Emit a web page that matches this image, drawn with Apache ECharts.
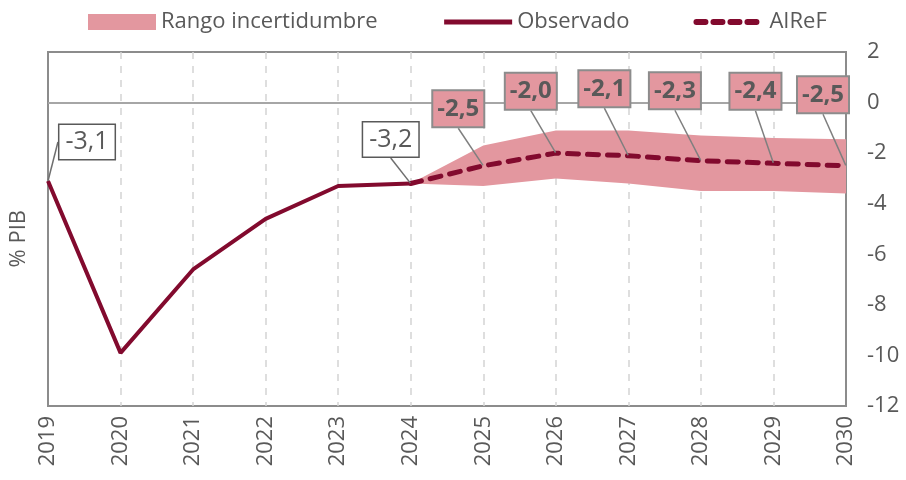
<!DOCTYPE html>
<html>
<head>
    <meta charset="utf-8">
    <title>Saldo % PIB</title>
    <script src="https://cdn.jsdelivr.net/npm/echarts@6/dist/echarts.min.js"></script>
    <style>
        html, body { margin: 0; padding: 0; background: #fff; }
        #chart1 { width: 906px; height: 480px; }
    </style>
</head>
<body>
<div id="chart1"></div>
<script>
    // datos
    var years = ['2019', '2020', '2021', '2022', '2023', '2024', '2025', '2026', '2027', '2028', '2029', '2030'];
    var observado = [-3.1, -9.9, -6.6, -4.6, -3.3, -3.2, null, null, null, null, null, null];
    var airef = [null, null, null, null, null, -3.2, -2.5, -2.0, -2.1, -2.3, -2.4, -2.5];
    var rangoBajo = [null, null, null, null, null, -3.2, -3.3, -3.0, -3.2, -3.5, -3.5, -3.6];
    var rangoAlto = [null, null, null, null, null, -3.2, -1.7, -1.1, -1.1, -1.3, -1.4, -1.45];

    // etiquetas: que puntos llevan caja y desplazamiento de la caja
    var obsConEtiqueta = [0, 5];
    var obsDesp = {0: [39, -39], 5: [-20, -44]};
    var arefDesp = {6: [-25, -57], 7: [-25, -62], 8: [-24, -67], 9: [-26, -70], 10: [-18, -72], 11: [-23, -71]};

    var granate = '#820a2e';
    var rosa = '#e3979f';
    var gris = '#595959';
    var fuente = '"Open Sans", Lato, sans-serif';

    function fmt(v) {
        return v.toFixed(1).replace('.', ',');
    }

    var diferencia = rangoAlto.map(function (v, i) {
        return v == null ? null : +(v - rangoBajo[i]).toFixed(2);
    });
    var obsEtiquetas = observado.map(function (v, i) {
        return obsConEtiqueta.indexOf(i) >= 0 ? v : null;
    });
    var arefEtiquetas = airef.map(function (v, i) {
        return i > 5 ? v : null;
    });

    var myChart1 = echarts.init(document.getElementById('chart1'));
    myChart1.setOption({
        animation: false,
        textStyle: {fontFamily: fuente},
        legend: {
            left: 83,
            top: 6,
            itemWidth: 68,
            itemHeight: 16,
            itemGap: 64,
            textStyle: {fontSize: 22, color: gris, fontFamily: fuente},
            data: [
                {name: 'Rango incertidumbre', icon: 'rect'},
                {name: 'Observado', itemStyle: {opacity: 0}, lineStyle: {width: 5}},
                {name: 'AIReF', itemStyle: {opacity: 0}, lineStyle: {width: 6, type: [9, 8]}}
            ]
        },
        grid: {
            left: 48,
            right: 60,
            top: 52,
            bottom: 74,
            show: true,
            borderColor: '#8c8c8c',
            borderWidth: 2,
            containLabel: false
        },
        graphic: [{
            type: 'text',
            left: 8,
            top: 210,
            rotation: Math.PI / 2,
            style: {text: '% PIB', fontSize: 22, fill: gris, fontFamily: fuente}
        }],
        xAxis: {
            type: 'category',
            data: years,
            boundaryGap: false,
            axisLine: {show: false},
            axisTick: {show: false},
            axisLabel: {rotate: 90, fontSize: 22, color: gris, margin: 10, fontFamily: fuente},
            splitLine: {
                show: true,
                showMinLine: false,
                showMaxLine: false,
                lineStyle: {color: '#d4d4d4', width: 1.5, type: [7, 7]}
            }
        },
        yAxis: {
            type: 'value',
            position: 'right',
            min: -12,
            max: 2,
            interval: 2,
            axisLine: {show: false},
            axisTick: {show: false},
            splitLine: {show: false},
            axisLabel: {fontSize: 22, color: gris, margin: 21, fontFamily: fuente}
        },
        series: [
            {
                name: 'base',
                type: 'line',
                stack: 'rango',
                stackStrategy: 'all',
                data: rangoBajo,
                symbol: 'none',
                lineStyle: {opacity: 0},
                silent: true,
                z: 1
            },
            {
                name: 'Rango incertidumbre',
                type: 'line',
                stack: 'rango',
                stackStrategy: 'all',
                data: diferencia,
                symbol: 'none',
                itemStyle: {color: rosa},
                lineStyle: {opacity: 0},
                areaStyle: {color: rosa, opacity: 1},
                silent: true,
                z: 1
            },
            {
                name: 'Observado',
                type: 'line',
                data: observado,
                symbol: 'none',
                itemStyle: {color: granate},
                lineStyle: {color: granate, width: 4},
                markLine: {
                    silent: true,
                    symbol: 'none',
                    label: {show: false},
                    lineStyle: {color: '#a6a6a6', width: 2, type: 'solid'},
                    data: [{yAxis: 0}]
                },
                z: 3
            },
            {
                name: 'AIReF',
                type: 'line',
                data: airef,
                symbol: 'none',
                itemStyle: {color: granate},
                lineStyle: {color: granate, width: 5, type: [11, 9], cap: 'round'},
                z: 3
            },
            {
                name: 'etqObs',
                type: 'scatter',
                data: obsEtiquetas,
                symbolSize: 1,
                silent: true,
                itemStyle: {color: 'rgba(0,0,0,0)'},
                label: {
                    show: true,
                    position: 'inside',
                    formatter: function (p) { return fmt(p.value); },
                    fontSize: 25,
                    color: gris,
                    opacity: 1,
                    textBorderWidth: 0,
                    backgroundColor: '#fff',
                    borderColor: gris,
                    borderWidth: 1.5,
                    padding: [6, 6, 3, 6]
                },
                labelLine: {show: true, lineStyle: {color: '#6f6f6f', width: 1.5}},
                labelLayout: function (p) {
                    var d = obsDesp[p.dataIndex] || [0, 0];
                    return {dx: d[0], dy: d[1]};
                },
                z: 5
            },
            {
                name: 'etqAiref',
                type: 'scatter',
                data: arefEtiquetas,
                symbolSize: 1,
                silent: true,
                itemStyle: {color: 'rgba(0,0,0,0)'},
                label: {
                    show: true,
                    position: 'inside',
                    formatter: function (p) { return fmt(p.value); },
                    fontSize: 24,
                    fontWeight: 'bold',
                    color: gris,
                    opacity: 1,
                    textBorderWidth: 0,
                    backgroundColor: rosa,
                    borderColor: '#8c8c8c',
                    borderWidth: 2,
                    padding: [7, 4, 4, 4]
                },
                labelLine: {show: true, lineStyle: {color: '#7f7f7f', width: 1.5}},
                labelLayout: function (p) {
                    var d = arefDesp[p.dataIndex] || [0, 0];
                    return {dx: d[0], dy: d[1]};
                },
                z: 5
            }
        ]
    });
</script>
</body>
</html>
